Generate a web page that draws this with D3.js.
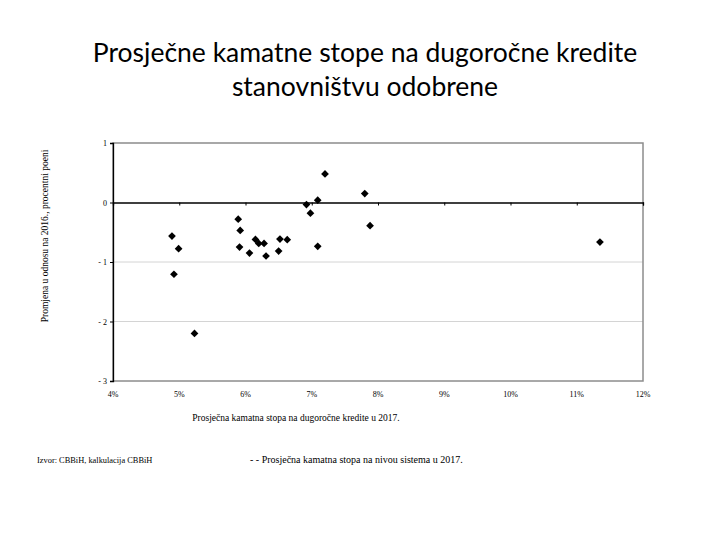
<!DOCTYPE html>
<html>
<head>
<meta charset="utf-8">
<script src="https://cdn.jsdelivr.net/npm/d3@7"></script>
<style>
  body { margin: 0; background: #fff; }
  svg text { fill: #000; }
</style>
</head>
<body>
<div id="chart"></div>
<script>
// stopa 2017 (%) i promjena u odnosu na 2016 (p.p.)
var stopa2017 = [4.89, 4.99, 4.92, 5.23, 5.89, 5.92, 5.91, 6.06, 6.15, 6.20, 6.28, 6.31,
                 6.50, 6.52, 6.63, 6.92, 6.98, 7.09, 7.09, 7.20, 7.80, 7.88, 11.35];
var promjena = [-0.565, -0.776, -1.206, -2.20, -0.28, -0.469, -0.749, -0.849, -0.62, -0.687, -0.687, -0.899,
                -0.816, -0.615, -0.625, -0.034, -0.179, 0.039, -0.737, 0.481, 0.151, -0.39, -0.665];
var xTicks = [4, 5, 6, 7, 8, 9, 10, 11, 12];
var yTicks = [1, 0, -1, -2, -3];

var naslov = ['Prosječne kamatne stope na dugoročne kredite', 'stanovništvu odobrene'];

var W = 720, H = 540;
var margin = {top: 143, left: 113, right: 77, bottom: 159};
var width = W - margin.left - margin.right,
    height = H - margin.top - margin.bottom;

var svg = d3.select('#chart').append('svg')
    .attr('width', W)
    .attr('height', H);

svg.selectAll('.naslov')
    .data(naslov).enter()
  .append('text')
    .attr('class', 'naslov')
    .attr('x', 365)
    .attr('y', function(d, i) { return 62 + i * 34; })
    .attr('text-anchor', 'middle')
    .style('font-family', 'Lato, "Open Sans", sans-serif')
    .style('font-size', '26.5px')
    .text(function(d) { return d; });

var g = svg.append('g')
    .attr('transform', 'translate(' + margin.left + ',' + margin.top + ')');

var x = d3.scaleLinear().domain([4, 12]).range([0, width]);
var y = d3.scaleLinear().domain([-3, 1]).range([height, 0]);

// mreza
g.selectAll('.grid')
    .data(yTicks.filter(function(d) { return d !== 0 && d !== 1 && d !== -3; })).enter()
  .append('line')
    .attr('x1', 0).attr('x2', width)
    .attr('y1', function(d) { return y(d); })
    .attr('y2', function(d) { return y(d); })
    .attr('stroke', '#d4d4d4');

// okvir
g.append('rect')
    .attr('x', 0).attr('y', 0)
    .attr('width', width).attr('height', height)
    .attr('fill', 'none')
    .attr('stroke', '#8c8c8c')
    .attr('stroke-width', 1.5);

// x osa na nuli
var xAxis = g.append('g')
    .attr('transform', 'translate(0,' + y(0) + ')')
    .call(d3.axisBottom(x).tickValues(xTicks).tickSize(3).tickFormat(''));
xAxis.select('.domain').attr('stroke', '#000').attr('stroke-width', 1.3);

// oznake x ose ispod
g.selectAll('.xlab')
    .data(xTicks).enter()
  .append('text')
    .attr('x', function(d) { return x(d); })
    .attr('y', height + 16)
    .attr('text-anchor', 'middle')
    .style('font-family', '"Liberation Serif", serif')
    .style('font-size', '8px')
    .text(function(d) { return d + '%'; });

var yAxis = g.append('g')
    .call(d3.axisLeft(y).tickValues(yTicks).tickSize(3).tickFormat(function(d) { return d < 0 ? '- ' + (-d) : d; }));
yAxis.select('.domain').attr('stroke', '#000').attr('stroke-width', 1.3);
yAxis.selectAll('text')
    .style('font-family', '"Liberation Serif", serif')
    .style('font-size', '8px');

// tacke
var tacke = stopa2017.map(function(s, i) { return {x: s, y: promjena[i]}; });
g.selectAll('.tacka')
    .data(tacke).enter()
  .append('path')
    .attr('class', 'tacka')
    .attr('d', d3.symbol().type(d3.symbolDiamond2).size(38))
    .attr('transform', function(d) { return 'translate(' + x(d.x) + ',' + y(d.y) + ')'; })
    .attr('fill', '#000');

// natpisi osa
svg.append('text')
    .attr('transform', 'translate(48,' + 236 + ') rotate(-90)')
    .attr('text-anchor', 'middle')
    .style('font-family', '"Liberation Serif", serif')
    .style('font-size', '9.5px')
    .text('Promjena u odnosu na 2016., procentni poeni');

svg.append('text')
    .attr('x', 296)
    .attr('y', 421)
    .attr('text-anchor', 'middle')
    .style('font-family', '"Liberation Serif", serif')
    .style('font-size', '9.5px')
    .text('Prosječna kamatna stopa na dugoročne kredite u 2017.');

svg.append('text')
    .attr('x', 37)
    .attr('y', 463)
    .style('font-family', '"Liberation Serif", serif')
    .style('font-size', '8.4px')
    .text('Izvor: CBBiH, kalkulacija CBBiH');

svg.append('text')
    .attr('x', 250)
    .attr('y', 463)
    .style('font-family', '"Liberation Serif", serif')
    .style('font-size', '10px')
    .text('- - Prosječna kamatna stopa na nivou sistema u 2017.');
</script>
</body>
</html>
